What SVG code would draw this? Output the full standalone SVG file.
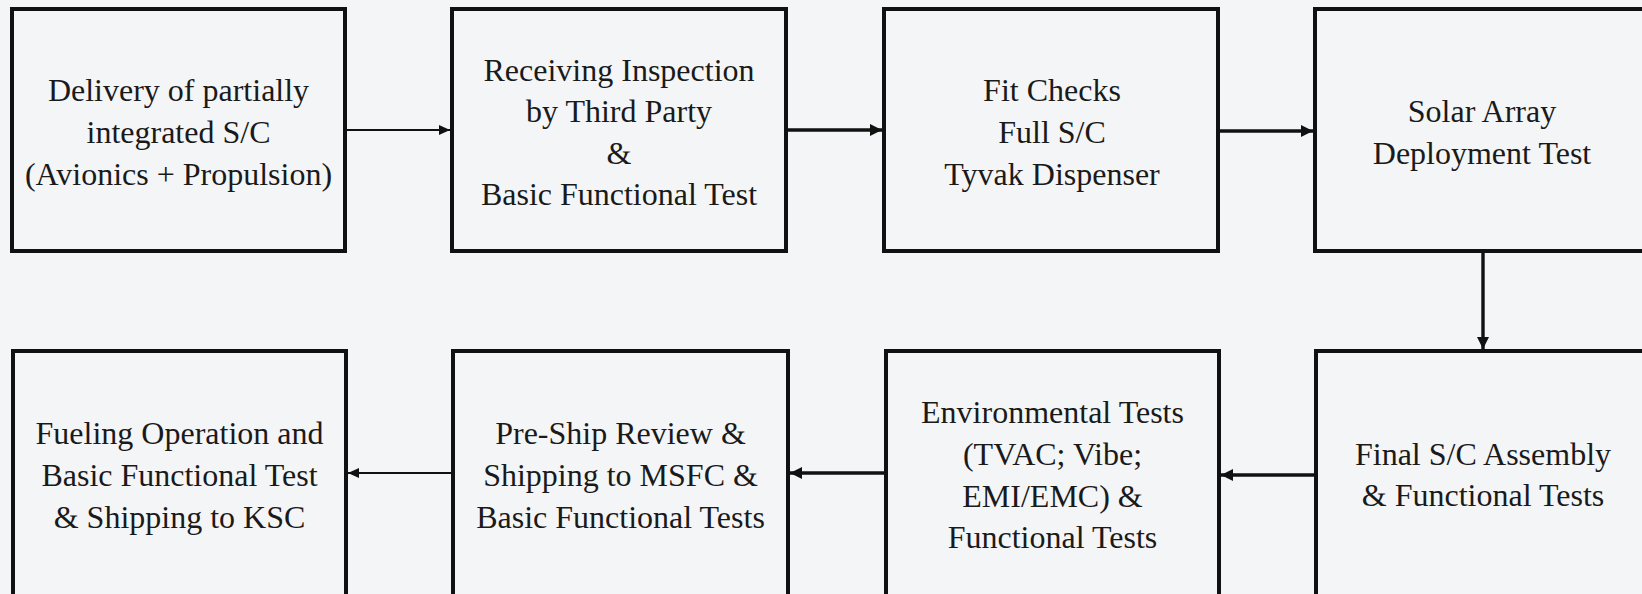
<svg xmlns="http://www.w3.org/2000/svg" width="1642" height="594" viewBox="0 0 1642 594">
  <defs>
    <style>
      .box { fill: #f4f5f7; stroke: #111; stroke-width: 4; }
      .lbl { font-family: "Liberation Serif", "Times New Roman", serif; font-size: 32px; fill: #1a1a1a; text-anchor: middle; }
      .thin { stroke: #111; stroke-width: 2; fill: none; }
      .thick { stroke: #111; stroke-width: 3.4; fill: none; }
    </style>
    <marker id="headS" markerUnits="userSpaceOnUse" markerWidth="12" markerHeight="10" refX="11" refY="5" orient="auto">
      <path d="M0,0 L11,5 L0,10 Z" fill="#111"/>
    </marker>
    <marker id="headL" markerUnits="userSpaceOnUse" markerWidth="13" markerHeight="12" refX="12" refY="6" orient="auto">
      <path d="M0,0 L12,6 L0,12 Z" fill="#111"/>
    </marker>
  </defs>

  <rect x="0" y="0" width="1642" height="594" fill="#f4f5f7"/>

  <g id="connectors">
    <line class="thin" x1="347" y1="130" x2="450" y2="130" marker-end="url(#headS)"/>
    <line class="thick" x1="788" y1="130" x2="882" y2="130" marker-end="url(#headL)"/>
    <line class="thick" x1="1220" y1="131" x2="1313" y2="131" marker-end="url(#headL)"/>
    <line class="thick" x1="1483" y1="253" x2="1483" y2="349" marker-end="url(#headL)"/>
    <line class="thick" x1="1314" y1="475" x2="1221" y2="475" marker-end="url(#headL)"/>
    <line class="thick" x1="884" y1="473" x2="790" y2="473" marker-end="url(#headL)"/>
    <line class="thin" x1="451" y1="473" x2="348" y2="473" marker-end="url(#headS)"/>
  </g>

  <g id="delivery">
    <rect class="box" x="12" y="9" width="333" height="242"/>
    <text class="lbl" x="178.5" y="101">Delivery of partially</text>
    <text class="lbl" x="178.5" y="143">integrated S/C</text>
    <text class="lbl" x="178.5" y="185">(Avionics + Propulsion)</text>
  </g>

  <g id="receiving">
    <rect class="box" x="452" y="9" width="334" height="242"/>
    <text class="lbl" x="619" y="80.5">Receiving Inspection</text>
    <text class="lbl" x="619" y="122">by Third Party</text>
    <text class="lbl" x="619" y="163.5">&amp;</text>
    <text class="lbl" x="619" y="205">Basic Functional Test</text>
  </g>

  <g id="fitchecks">
    <rect class="box" x="884" y="9" width="334" height="242"/>
    <text class="lbl" x="1052" y="101">Fit Checks</text>
    <text class="lbl" x="1052" y="143">Full S/C</text>
    <text class="lbl" x="1052" y="185">Tyvak Dispenser</text>
  </g>

  <g id="solararray">
    <rect class="box" x="1315" y="9" width="334" height="242"/>
    <text class="lbl" x="1482" y="122">Solar Array</text>
    <text class="lbl" x="1482" y="163.5">Deployment Test</text>
  </g>

  <g id="finalassembly">
    <rect class="box" x="1316" y="351" width="334" height="246"/>
    <text class="lbl" x="1483" y="465">Final S/C Assembly</text>
    <text class="lbl" x="1483" y="506">&amp; Functional Tests</text>
  </g>

  <g id="environmental">
    <rect class="box" x="886" y="351" width="333" height="246"/>
    <text class="lbl" x="1052.5" y="423">Environmental Tests</text>
    <text class="lbl" x="1052.5" y="465">(TVAC; Vibe;</text>
    <text class="lbl" x="1052.5" y="506.5">EMI/EMC) &amp;</text>
    <text class="lbl" x="1052.5" y="548">Functional Tests</text>
  </g>

  <g id="preship">
    <rect class="box" x="453" y="351" width="335" height="246"/>
    <text class="lbl" x="620.5" y="444">Pre-Ship Review &amp;</text>
    <text class="lbl" x="620.5" y="486">Shipping to MSFC &amp;</text>
    <text class="lbl" x="620.5" y="527.5">Basic Functional Tests</text>
  </g>

  <g id="fueling">
    <rect class="box" x="13" y="351" width="333" height="246"/>
    <text class="lbl" x="179.5" y="444">Fueling Operation and</text>
    <text class="lbl" x="179.5" y="486">Basic Functional Test</text>
    <text class="lbl" x="179.5" y="527.5">&amp; Shipping to KSC</text>
  </g>
</svg>
